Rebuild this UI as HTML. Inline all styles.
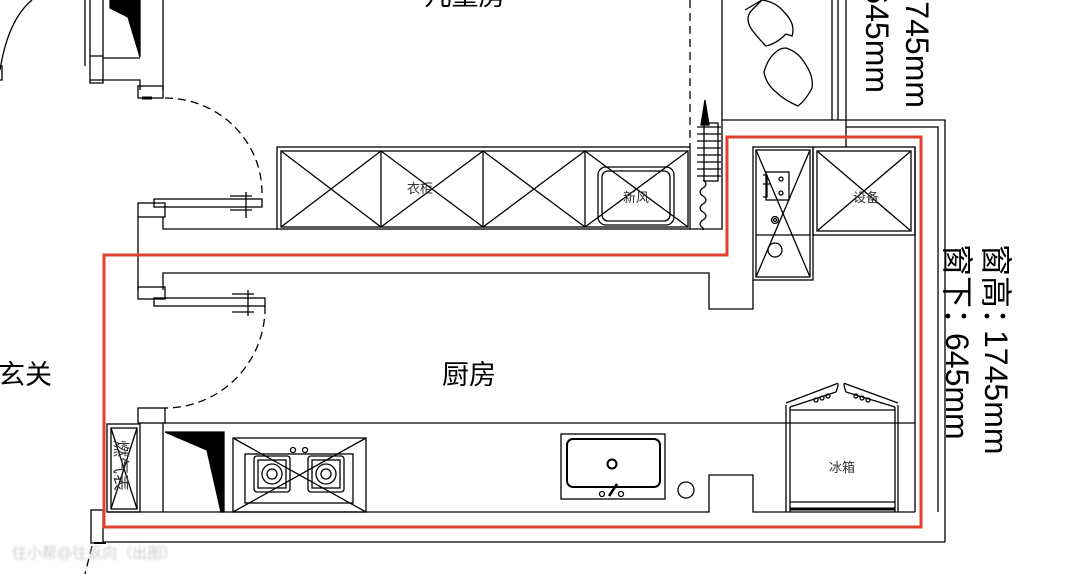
<!DOCTYPE html>
<html><head><meta charset="utf-8"><style>
html,body{margin:0;padding:0;background:#fff;width:1080px;height:574px;overflow:hidden}
svg{display:block}
text{font-family:"Liberation Sans","Noto Sans CJK SC",sans-serif}
</style></head><body>
<svg width="1080" height="574" viewBox="0 0 1080 574" xmlns="http://www.w3.org/2000/svg">
<g fill="none" stroke="#000" stroke-width="1.3">
<path d="M0,70 Q8,20 32,0"/>
<rect x="-2" y="66" width="4" height="14"/>
<path d="M85,0 V66 M90,0 V83 H103 V56 H90 M103,0 V58 H140 M163,0 V90 M90,80 H140 V90"/>
<polygon points="110,0 140,0 140,57 128,17 110,8" fill="#000"/>
<rect x="138" y="86" width="25" height="12"/>
<path d="M142,98 h10" stroke-width="3"/>
<path d="M165,98 A97,95 0 0 1 262,193" stroke-dasharray="8,5"/>
<rect x="154" y="199" width="108" height="8"/>
<path d="M230,196 h22 M230,210 h22 M246,192 v26" />
<rect x="138" y="203" width="27" height="14"/>
<path d="M163,217 V229 H277 M138,217 V290"/>
<rect x="277" y="147" width="413" height="82"/>
<rect x="281" y="151" width="407" height="76"/>
<path d="M381,151 V227 M483,151 V227 M585,151 V227"/>
<path d="M281,151 L381,227 M381,151 L281,227 M381,151 L483,227 M483,151 L381,227 M483,151 L585,227 M585,151 L483,227 M585,151 L688,227 M688,151 L585,227"/>
<rect x="598" y="167" width="76" height="58" rx="8"/>
<rect x="602" y="171" width="68" height="50" rx="6"/>
<path d="M690,0 V147" stroke-dasharray="8,5"/>
<path d="M705,100 L701,125 H709 Z" fill="#000"/>
<path d="M697,127 h24 M697,134 h24 M697,141 h24 M697,148 h24 M697,155 h24 M697,162 h24 M697,169 h24 M697,176 h24"/>
<rect x="704" y="123" width="14" height="58"/>
<path d="M703,180 q6,4 0,8 q-6,4 0,8 q6,4 0,8 q-6,4 0,8 q6,4 0,8 q-6,4 0,8 v2"/>
<path d="M690,229 H722 V120 M722,0 V120 H846 V147 M832,0 V120 M838,0 V120 M846,120 V0"/>
<path d="M846,127 H938 V512 M846,120 H945 V542"/>
<path d="M745,10 L762,0 M762,0 q14,2 22,12 q12,12 8,24 l-6,-2 q-10,10 -20,12 q-8,-8 -14,-16 q-8,-12 0,-20 z"/>
<path d="M786,48 q12,4 18,14 q10,14 8,26 q-6,12 -14,18 q-14,-6 -22,-14 q-10,-8 -12,-20 q4,-14 12,-20 q4,-4 10,-4 z"/>
<rect x="753" y="147" width="60" height="133"/>
<rect x="756" y="150" width="54" height="127"/>
<path d="M756,235 H810 M756,150 L810,277 M810,150 L756,277"/>
<rect x="766" y="172" width="23" height="28"/>
<path d="M763,175 h4 v22 h-4 M763,184 h8"/>
<circle cx="781" cy="179" r="2"/><circle cx="781" cy="193" r="2"/>
<circle cx="775" cy="220" r="3.5"/><circle cx="775" cy="220" r="1.5"/>
<circle cx="775" cy="250" r="7"/>
<rect x="813" y="147" width="102" height="88"/>
<rect x="817" y="151" width="94" height="80"/>
<path d="M817,151 L911,231 M911,151 L817,231"/>
<path d="M915,147 V512"/>
<path d="M163,290 V273 H709 V309 H753 V280"/>
<rect x="138" y="287" width="27" height="12"/>
<rect x="154" y="298" width="111" height="8"/>
<path d="M232,294 h22 M232,312 h22 M248,290 v26"/>
<path d="M265,306 A100,100 0 0 1 165,408" stroke-dasharray="8,5"/>
<rect x="138" y="408" width="27" height="15"/>
<path d="M163,423 H915 M163,423 V512 M108,512 H709 V475 H753 V512 H915"/>
<path d="M103,542 H945"/>
<rect x="107" y="424" width="33" height="88"/>
<rect x="111" y="428" width="26" height="81"/>
<path d="M111,428 L137,509 M137,428 L111,509"/>
<polygon points="165,432 224,432 224,512 221,512 207,450" fill="#000"/>
<rect x="233" y="438" width="133" height="74"/>
<rect x="245" y="454" width="108" height="49"/>
<path d="M233,438 L366,512 M366,438 L233,512"/>
<rect x="254" y="456" width="36" height="36" rx="3"/>
<rect x="258" y="460" width="28" height="28"/>
<circle cx="272" cy="474" r="10"/><circle cx="272" cy="474" r="5"/>
<rect x="308" y="456" width="36" height="36" rx="3"/>
<rect x="312" y="460" width="28" height="28"/>
<circle cx="326" cy="474" r="10"/><circle cx="326" cy="474" r="5"/>
<circle cx="293" cy="450" r="2.5"/><circle cx="305" cy="450" r="2.5"/>
<rect x="561" y="434" width="104" height="65"/>
<rect x="567" y="439" width="93" height="48" rx="6" stroke-width="2"/>
<circle cx="612" cy="464" r="4.5" stroke-width="2"/>
<circle cx="602" cy="494" r="2.5"/><circle cx="621" cy="494" r="2.5"/>
<path d="M609,496 L617,484" stroke-width="2.5"/>
<circle cx="686" cy="490" r="8"/>
<path d="M786,512 V405 M790,512 V407 M895,512 V407 M898,512 V405 M790,410 H895 M790,502 H895"/>
<path d="M790,509 H895" stroke-width="3"/>
<path d="M786,403 L836,384 M790,407 L836,392 M898,403 L846,384 M895,407 L846,392"/>
<path d="M836,384 q4,-3 0,8 M846,384 q-4,-3 0,8"/>
<circle cx="816" cy="400" r="2"/><circle cx="822" cy="398" r="2"/><circle cx="828" cy="396" r="2"/>
<circle cx="856" cy="396" r="2"/><circle cx="862" cy="398" r="2"/><circle cx="868" cy="400" r="2"/>
<rect x="91" y="510" width="12" height="33"/>
<path d="M94,543 H106" stroke-width="2"/>
<path d="M92,546 L85,574" stroke-dasharray="8,5"/>
</g>
<path d="M104,527 V255 H727 V137 H921 V527 Z" fill="none" stroke="#e0412c" stroke-width="3"/>
<g fill="#333" font-size="13">
<text x="420" y="193" text-anchor="middle">衣柜</text>
<text x="636" y="202" text-anchor="middle">新风</text>
<text x="866" y="202" text-anchor="middle">设备</text>
<text x="842" y="472" text-anchor="middle">冰箱</text>
<text transform="translate(115,440) rotate(90)" font-size="17">燃气表</text>
</g>
<g fill="#000" font-size="27">
<text x="469" y="384" text-anchor="middle">厨房</text>
<text x="-2" y="384">玄关</text>
<text x="465" y="5" text-anchor="middle">儿童房</text>
</g>
<g fill="#000" font-size="32">
<text transform="translate(985,244) rotate(90)">窗高：</text>
<text transform="translate(985,330) rotate(90)">1745mm</text>
<text transform="translate(946,244) rotate(90)">窗下：</text>
<text transform="translate(946,333) rotate(90)">645mm</text>
<text transform="translate(906,108) rotate(90)" text-anchor="end">745mm</text>
<text transform="translate(866,93) rotate(90)" text-anchor="end">645mm</text>
</g>
<text x="12" y="558" font-size="15" fill="#ccc" style="filter:blur(1px)">住小帮@往返向（出图）</text>
</svg>
</body></html>
